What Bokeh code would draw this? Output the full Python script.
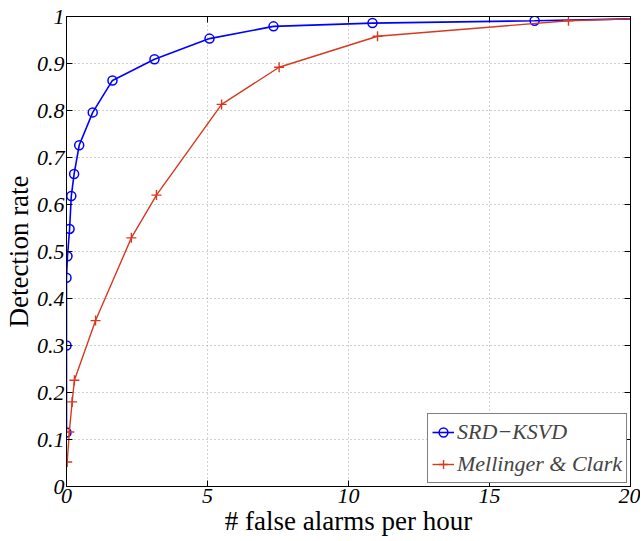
from bokeh.plotting import figure
from bokeh.models import Range1d, LinearAxis, FixedTicker, CustomJSTickFormatter, Legend, LegendItem
from bokeh.embed import file_html
from bokeh.resources import INLINE

# Data
srd_x = [0.0, 0.0, 0.0, 0.035, 0.11, 0.17, 0.27, 0.45, 0.93, 1.63, 3.12, 5.07, 7.34, 10.85, 16.6, 20.0]
srd_y = [0.115, 0.300, 0.444, 0.490, 0.548, 0.618, 0.665, 0.726, 0.796, 0.864, 0.909, 0.953, 0.979, 0.986, 0.991, 0.995]
mc_x = [0.025, 0.1, 0.2, 0.28, 1.03, 2.3, 3.19, 5.5, 7.54, 11.03, 17.8, 20.0]
mc_y = [0.052, 0.116, 0.180, 0.226, 0.353, 0.529, 0.620, 0.813, 0.892, 0.958, 0.991, 0.995]
x_ticks = [0, 5, 10, 15, 20]
y_ticks = [0, 0.1, 0.2, 0.3, 0.4, 0.5, 0.6, 0.7, 0.8, 0.9, 1.0]

BLUE = "#0000ff"
RED = "#d9381e"
SERIF = "Liberation Serif"

p = figure(width=640, height=538, output_backend="svg", toolbar_location=None,
           x_range=Range1d(0, 20), y_range=Range1d(0, 1),
           min_border_left=66, min_border_right=10, min_border_top=16, min_border_bottom=51)
p.background_fill_color = "white"
p.border_fill_color = "white"
p.outline_line_color = "black"
p.outline_line_width = 1

fmt = CustomJSTickFormatter(code="return String(Math.round(tick*10)/10);")
blank = CustomJSTickFormatter(code="return '';")

for ax, ticks in ((p.xaxis[0], x_ticks), (p.yaxis[0], y_ticks)):
    ax.ticker = FixedTicker(ticks=ticks)
    ax.formatter = fmt
    ax.major_tick_in = 6
    ax.major_tick_out = 0
    ax.minor_tick_line_color = None
    ax.axis_line_color = "black"
    ax.major_label_text_font = SERIF
    ax.major_label_text_font_style = "italic"
    ax.major_label_text_font_size = "22px"
    ax.major_label_text_color = "black"
    ax.axis_label_text_font = SERIF
    ax.axis_label_text_font_style = "normal"
    ax.axis_label_text_font_size = "27px"
    ax.axis_label_text_color = "black"
    ax.major_label_standoff = 2
    ax.axis_label_standoff = 0

p.xaxis.axis_label = "# false alarms per hour"
p.yaxis.axis_label = "Detection rate"

# mirrored axes (ticks only) on right and top
ra = LinearAxis(ticker=FixedTicker(ticks=y_ticks), formatter=blank, major_tick_in=6, major_tick_out=0,
                minor_tick_line_color=None, major_label_standoff=0)
ta = LinearAxis(ticker=FixedTicker(ticks=x_ticks), formatter=blank, major_tick_in=6, major_tick_out=0,
                minor_tick_line_color=None, major_label_standoff=0)
p.add_layout(ra, "right")
p.add_layout(ta, "above")

p.xgrid.ticker = FixedTicker(ticks=x_ticks)
p.ygrid.ticker = FixedTicker(ticks=y_ticks)
p.grid.grid_line_color = "#a0a0a0"
p.grid.grid_line_dash = "1 3"
p.grid.grid_line_width = 1

l1 = p.line(srd_x, srd_y, line_color=BLUE, line_width=1.6)
m1 = p.scatter(srd_x[:-1], srd_y[:-1], marker="circle", size=9, fill_color=None,
               line_color=BLUE, line_width=1.5)
l2 = p.line(mc_x, mc_y, line_color=RED, line_width=1.4)
m2 = p.scatter(mc_x[:-1], mc_y[:-1], marker="cross", size=10, line_color=RED, line_width=1.4)

legend = Legend(items=[LegendItem(label="SRD\u2212KSVD", renderers=[l1, m1]),
                       LegendItem(label="Mellinger & Clark", renderers=[l2, m2])],
                location="bottom_right")
legend.margin = 3
legend.padding = 4
legend.spacing = 4
legend.label_height = 28
legend.glyph_height = 28
legend.glyph_width = 22
legend.label_standoff = 3
legend.label_text_font = SERIF
legend.label_text_font_style = "italic"
legend.label_text_font_size = "22px"
legend.border_line_color = "black"
legend.border_line_width = 1
legend.background_fill_alpha = 1.0
p.add_layout(legend, "center")

open("out.html", "w").write(file_html(p, INLINE))
